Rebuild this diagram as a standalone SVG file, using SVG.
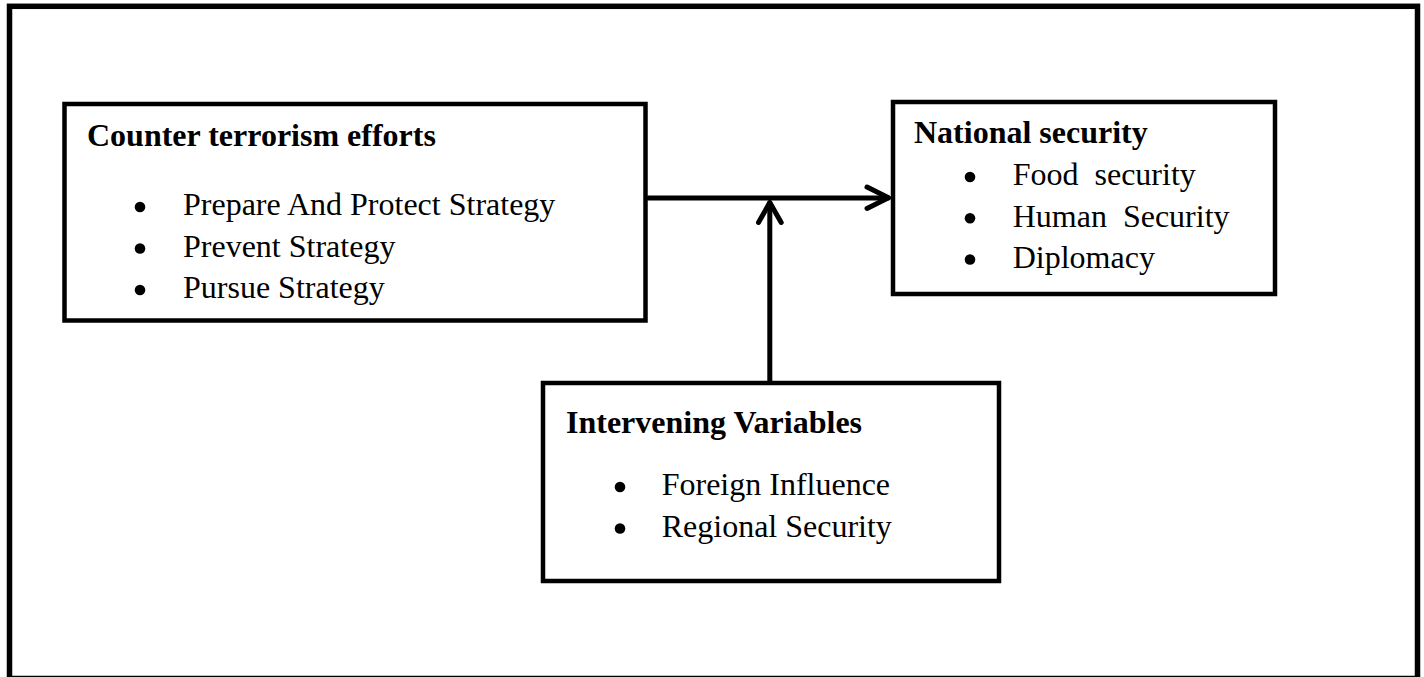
<svg xmlns="http://www.w3.org/2000/svg" width="1424" height="677" viewBox="0 0 1424 677">
<style>
.box{fill:#fff;stroke:#000;stroke-width:4.5}
.frame{fill:#fff;stroke:#000;stroke-width:5.5}
.t{font-family:"Liberation Serif","Times New Roman",serif;font-size:32px;fill:#000;white-space:pre}
.b{font-weight:bold}
.dot{fill:#000}
.conn{fill:none;stroke:#000;stroke-width:5;stroke-linecap:round;stroke-linejoin:round}
</style>
<rect x="0" y="0" width="1424" height="677" fill="#fff"/>
<rect class="frame" x="9.5" y="6.3" width="1408" height="672.2"/>
<g id="counter-terrorism">
<rect class="box" x="64.5" y="104" width="581" height="216.5"/>
<text class="t b" x="87" y="146">Counter terrorism efforts</text>
<circle class="dot" cx="140" cy="207" r="5.3"/>
<circle class="dot" cx="140" cy="248.5" r="5.3"/>
<circle class="dot" cx="140" cy="290" r="5.3"/>
<text class="t" x="183" y="215">Prepare And Protect Strategy</text>
<text class="t" x="183" y="256.5">Prevent Strategy</text>
<text class="t" x="183" y="298">Pursue Strategy</text>
</g>
<g id="national-security">
<rect class="box" x="893" y="102" width="382" height="192"/>
<text class="t b" x="914" y="143.3">National security</text>
<circle class="dot" cx="970" cy="177" r="5.3"/>
<circle class="dot" cx="970" cy="218.3" r="5.3"/>
<circle class="dot" cx="970" cy="259.5" r="5.3"/>
<text class="t" x="1012.7" y="185">Food  security</text>
<text class="t" x="1012.7" y="226.5">Human  Security</text>
<text class="t" x="1012.7" y="267.5">Diplomacy</text>
</g>
<g id="intervening-variables">
<rect class="box" x="543" y="383" width="456" height="198"/>
<text class="t b" x="566" y="433.3">Intervening Variables</text>
<circle class="dot" cx="620" cy="487" r="5.3"/>
<circle class="dot" cx="620" cy="528.5" r="5.3"/>
<text class="t" x="661.7" y="495">Foreign Influence</text>
<text class="t" x="661.7" y="536.7">Regional Security</text>
</g>
<g id="connectors">
<path class="conn" d="M648 198 H888"/>
<path class="conn" d="M867 187 L888.5 197.8 L867 208.5"/>
<path class="conn" d="M769.8 381 V203"/>
<path class="conn" d="M758.5 222.5 L769.8 202.5 L781.2 222.5"/>
</g>
</svg>
